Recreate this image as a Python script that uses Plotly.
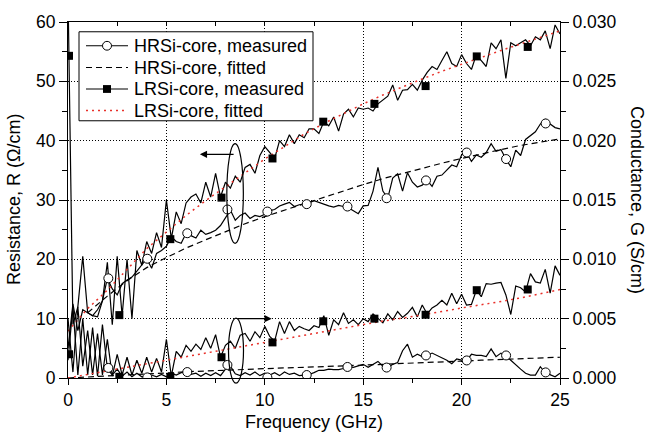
import numpy as np
import plotly.graph_objects as go

# ---------------- data ----------------
freq = np.linspace(0, 25, 101)  # GHz, 0.25 GHz step

hr_R = [5, 12.5, 8, 11.5, 11, 10.5, 10.3, 13, 16.8, 15,
        14, 15.9, 16.5, 17, 18, 19, 20.1, 18.5, 21, 21.5,
        22.2, 23.8, 23, 22.7, 24.4, 24, 23.6, 24.9, 24.2, 24.5,
        24.9, 25.7, 27, 28.3, 26.6, 27.4, 27.8, 26.9, 27.4, 27.2,
        27.6, 28.2, 28.4, 29.0, 29.3, 29.6, 28.9, 29.2, 29.3, 29.5,
        29.9, 29.6, 29.2, 29.0, 28.8, 29.1, 28.9, 28.7, 28.2, 27.7,
        29.0, 29.1, 31.5, 35.5, 31.5, 30.3, 33.7, 34.4, 31.5, 34.6,
        33, 32.2, 32.5, 33.3, 32.3, 34.0, 34.2, 35, 35.9, 35.6,
        37.6, 38.0, 36.5, 37.6, 37.2, 38, 39.5, 38.2, 38.5, 36.9,
        35.6, 38.4, 37.5, 40.2, 40.8, 41.5, 42.8, 43.6, 42.8, 42.2,
        42.0]

lr_R = [65, 9, 12, 20.5, 11, 10.5, 11.5, 13, 19.5, 9,
        20.5, 10.5, 20, 10, 21.5, 19, 23, 21, 24.5, 22,
        30, 23.5, 28, 26, 29.5, 30.5, 31, 29.5, 33, 30.5,
        34.5, 30.5, 33, 32, 34, 33, 35.5, 36, 34.5, 37.5,
        39, 38, 37, 40, 39, 41, 39.5, 41, 40.5, 42,
        42, 41.2, 43.2, 42.5, 44, 41.6, 44.5, 45.3, 44, 45.5,
        45.3, 45.5, 45, 46.2, 46.8, 47.5, 49.4, 46.8, 48.5, 48.6,
        49.5, 48.5, 50.2, 51.5, 52.5, 52, 53.5, 55, 53, 52.5,
        54.5, 53, 52, 54.5, 53.5, 52.5, 56.5, 55.5, 57, 50.5,
        56.5, 56, 56.5, 57, 56, 57.5, 57, 58.5, 55.5, 59.5,
        58]

# conductance in mS/cm
hr_G_mS = [1.5, 6, 0.25, 5, 0.25, 4.25, 0.15, 4.5, 0.8, 0.25,
           0.75, 0.15, 0.5, 0.1, 0.4, 0.1, 0.15, 0.25, 0.1, 0.3,
           0.1, 0.4, 0.25, 0.45, 0.5, 0.3, 0.4, 0.15, 0.4, 0.2,
           0.45, 0.2, 0.75, 1.0, 0.35, 0.2, 0.45, 0.25, 0.5, 0.2,
           0.4, 0.25, 0.45, 0.2, 0.5, 0.3, 0.4, 0.2, 0.25, 0.3,
           0.45, 0.65, 0.65, 0.75, 0.7, 0.7, 0.8, 0.95, 0.9, 1.05,
           1.15, 0.9, 1.15, 1.4, 1.0, 0.85, 1.15, 1.3, 2.3, 2.85,
           1.75, 2.0, 1.8, 1.9, 2.1, 1.9, 1.65, 1.5, 1.2, 1.6,
           1.5, 1.45, 2.0, 1.9, 1.9, 1.8, 2.45, 1.8, 2.1, 1.9,
           1.5, 1.1, 0.75, 0.4, 0.25, 0.25, 0.95, 0.45, 0.3, 0.1,
           0.4]

lr_G_mS = [5, 0.5, 6, 1, 4, 0.25, 3.75, 0.25, 3.25, 0.15,
           2, 0.25, 1.75, 0.25, 1.5, 0.4, 1.75, 0.5, 1.65, 0.5,
           3.25, 0.15, 2.25, 1.75, 2.75, 2.25, 2.85, 2.4, 3.4, 2.5,
           3.65, 1.75, 2.75, 3.1, 2.5, 3.6, 3.75, 3.1, 3.9, 3.4,
           4.35, 3.5, 3.1, 4.75, 3.75, 4.75, 4.0, 4.35, 4.15, 4.0,
           4.4, 4.25, 5.25, 3.6, 4.9, 4.5, 5.5, 4.6, 4.9, 4.5,
           5.0, 4.75, 5.4, 5.0, 4.65, 5.4, 4.9, 5.6, 5.1, 5.45,
           5.95, 5.15, 6.15, 5.4, 5.9, 6.15, 6.55, 6.15, 7.15, 6.25,
           7.05, 6.15, 6.2, 7.4, 6.85, 7.95, 7.9, 8.0, 8.05, 7.0,
           5.35, 7.75, 7.6, 7.25, 8.8, 8.1, 8.0, 9.15, 7.15, 9.45,
           8.65]

fit_f = list(range(26))
hr_R_fit = [None, 11.0, 13.8, 16.4, 18.6, 20.3, 21.9, 23.3, 24.7, 26.0,
            27.2, 28.3, 29.4, 30.5, 31.6, 32.6, 33.6, 34.5, 35.4, 36.2,
            37.0, 37.8, 38.5, 39.2, 39.8, 40.3]
lr_R_fit = [7.9, 11.7, 14.8, 18.3, 21.8, 24.6, 27.4, 29.9, 32.2, 34.6,
            36.9, 39.0, 41.1, 42.9, 44.6, 46.2, 47.7, 49.1, 50.4, 51.7,
            52.9, 54.1, 55.2, 56.3, 57.4, 58.5]
hr_G_fit_mS = [0, 0.075, 0.15, 0.225, 0.325, 0.425, 0.525, 0.6, 0.675, 0.75,
               0.8, 0.85, 0.9, 0.95, 1.025, 1.1, 1.15, 1.225, 1.275, 1.35,
               1.425, 1.5, 1.55, 1.625, 1.7, 1.75]
lr_G_fit_mS = [0, 0.3, 0.65, 0.95, 1.25, 1.5, 1.8, 2.1, 2.45, 2.75,
               3.05, 3.35, 3.625, 3.95, 4.25, 4.5, 4.8, 5.05, 5.3, 5.6,
               5.9, 6.15, 6.45, 6.75, 7.1, 7.45]

hr_mark_f = [2.05, 4.03, 6.06, 8.1, 10.13, 12.13, 14.2, 16.19, 18.19, 20.26, 22.26, 24.27]
hr_mark_R = [16.8, 20.1, 24.4, 28.4, 28.05, 29.3, 28.9, 30.3, 33.3, 38.0, 36.9, 42.9]
hr_mark_G_mS = [0.85, 0.05, 0.5, 1.1, 0.05, 0.25, 0.93, 0.88, 1.9, 1.48, 1.9, 0.47]

lr_mark_f = [0.05, 2.61, 5.2, 7.8, 10.39, 12.97, 15.57, 18.17, 20.77, 23.36]
lr_mark_R = [54.3, 10.6, 23.4, 30.4, 37.0, 43.2, 46.2, 49.2, 54.2, 55.8]
lr_mark_G_mS = [2.0, 0.1, 0.1, 1.75, 3.0, 4.78, 5.0, 5.33, 7.4, 7.46]

legend_names = ["HRSi-core, measured", "HRSi-core, fitted",
                "LRSi-core, measured", "LRSi-core, fitted"]

# ---------------- styles ----------------
BLACK = "black"
RED = "#e8302a"
LW = 1.2
circle_marker = dict(symbol="circle", size=9, color="white", line=dict(color=BLACK, width=1))
square_marker = dict(symbol="square", size=8, color=BLACK, line=dict(color=BLACK, width=0))
fit_dash = "6px,4px"
red_dot = "2px,4px"
FONT = "Liberation Sans, Arial, sans-serif"
TICKFONT = dict(family=FONT, size=17.5, color=BLACK)

W, H = 646, 437
ML, MR, MT, MB = 68, 86, 14, 59
PW, PH = W - ML - MR, H - MT - MB


def px_x(px):
    return (px - ML) / PW


def px_y(py):
    return (H - MB - py) / PH


def mS(v):
    return [None if a is None else a / 1000.0 for a in v]


fig = go.Figure()

# measured lines
for yv, ax in [(hr_R, "y"), (lr_R, "y"), (mS(hr_G_mS), "y2"), (mS(lr_G_mS), "y2")]:
    fig.add_trace(go.Scatter(x=freq, y=yv, mode="lines", line=dict(color=BLACK, width=LW),
                             showlegend=False, yaxis=ax, hoverinfo="skip"))

# fitted lines
fig.add_trace(go.Scatter(x=fit_f, y=hr_R_fit, mode="lines", line=dict(color=BLACK, width=LW, dash=fit_dash),
                         showlegend=False, yaxis="y"))
fig.add_trace(go.Scatter(x=fit_f, y=mS(hr_G_fit_mS), mode="lines", line=dict(color=BLACK, width=LW, dash=fit_dash),
                         showlegend=False, yaxis="y2"))
fig.add_trace(go.Scatter(x=fit_f, y=lr_R_fit, mode="lines", line=dict(color=RED, width=1.5, dash=red_dot),
                         showlegend=False, yaxis="y"))
fig.add_trace(go.Scatter(x=fit_f, y=mS(lr_G_fit_mS), mode="lines", line=dict(color=RED, width=1.5, dash=red_dot),
                         showlegend=False, yaxis="y2"))

# markers
fig.add_trace(go.Scatter(x=hr_mark_f, y=hr_mark_R, mode="markers", marker=circle_marker,
                         showlegend=False, yaxis="y"))
fig.add_trace(go.Scatter(x=hr_mark_f, y=mS(hr_mark_G_mS), mode="markers", marker=circle_marker,
                         showlegend=False, yaxis="y2"))
fig.add_trace(go.Scatter(x=lr_mark_f, y=lr_mark_R, mode="markers", marker=square_marker,
                         showlegend=False, yaxis="y"))
fig.add_trace(go.Scatter(x=lr_mark_f, y=mS(lr_mark_G_mS), mode="markers", marker=square_marker,
                         showlegend=False, yaxis="y2"))

# helper trace so the top (inside-tick) axis is drawn
fig.add_trace(go.Scatter(x=[None], y=[None], xaxis="x2", mode="lines", showlegend=False))

fig.update_layout(
    width=W, height=H,
    margin=dict(l=ML, r=MR, t=MT, b=MB, pad=0),
    plot_bgcolor="white", paper_bgcolor="white",
    font=dict(family=FONT, size=18, color=BLACK),
    showlegend=False,
    xaxis=dict(range=[0, 25], dtick=5, tick0=0, ticks="outside", ticklen=6, tickwidth=1, tickcolor=BLACK,
               showline=True, linecolor=BLACK, linewidth=1, mirror=True,
               showgrid=True, gridcolor=BLACK, griddash="1px,2px", gridwidth=1, zeroline=False,
               minor=dict(dtick=2.5, ticks="outside", ticklen=4, tickcolor=BLACK, showgrid=False),
               tickfont=TICKFONT),
    xaxis2=dict(range=[0, 25], overlaying="x", side="top", anchor="y",
                showticklabels=False, ticks="inside", ticklen=4, tickcolor=BLACK, dtick=5, tick0=0,
                minor=dict(dtick=2.5, ticks="inside", ticklen=4, tickcolor=BLACK, showgrid=False),
                showgrid=False, zeroline=False, showline=False),
    yaxis=dict(range=[0, 60], dtick=10, tick0=0, ticks="outside", ticklen=8, tickwidth=1, tickcolor=BLACK,
               showline=True, linecolor=BLACK, linewidth=1,
               showgrid=True, gridcolor=BLACK, griddash="1px,2px", gridwidth=1, zeroline=False,
               minor=dict(dtick=5, ticks="outside", ticklen=5, tickcolor=BLACK, showgrid=False),
               tickfont=TICKFONT),
    yaxis2=dict(range=[0, 0.03], overlaying="y", side="right", anchor="x", dtick=0.005, tick0=0,
                tickformat=".3f", ticks="outside", ticklen=8, tickwidth=1, tickcolor=BLACK,
                showline=True, linecolor=BLACK, linewidth=1, showgrid=False, zeroline=False,
                minor=dict(dtick=0.0025, ticks="outside", ticklen=5, tickcolor=BLACK, showgrid=False),
                tickfont=TICKFONT),
)

# axis titles
fig.add_annotation(text="Frequency (GHz)", xref="paper", yref="paper", x=0.5, y=px_y(423),
                   xanchor="center", yanchor="middle", showarrow=False, font=dict(family=FONT, size=18))
fig.add_annotation(text="Resistance, R (\u03a9/cm)", xref="paper", yref="paper", x=px_x(14), y=0.5,
                   xanchor="center", yanchor="middle", textangle=-90, showarrow=False,
                   font=dict(family=FONT, size=18))
fig.add_annotation(text="Conductance, G (S/cm)", xref="paper", yref="paper", x=px_x(637), y=0.5,
                   xanchor="center", yanchor="middle", textangle=90, showarrow=False,
                   font=dict(family=FONT, size=18))

# ellipse + arrow for the resistance curves (points to left axis)
fig.add_shape(type="circle", xref="x", yref="y", x0=8.07, x1=8.91, y0=22.7, y1=39.5,
              line=dict(color=BLACK, width=1.2))
fig.add_annotation(x=6.7, y=37.7, ax=8.49, ay=37.7, xref="x", yref="y", axref="x", ayref="y",
                   text="", showarrow=True, arrowhead=2, arrowsize=1.2, arrowwidth=1.2, arrowcolor=BLACK)

# ellipse + arrow for the conductance curves (points to right axis)
fig.add_shape(type="circle", xref="paper", yref="paper", x0=px_x(228.5), x1=px_x(243.5),
              y0=px_y(383.3), y1=px_y(316.7), line=dict(color=BLACK, width=1.2))
fig.add_annotation(x=10.35, y=10, ax=8.53, ay=10, xref="x", yref="y", axref="x", ayref="y",
                   text="", showarrow=True, arrowhead=2, arrowsize=1.2, arrowwidth=1.2, arrowcolor=BLACK)

# ---------------- legend box (drawn in pixel layout) ----------------
fig.add_shape(type="rect", xref="paper", yref="paper", layer="above",
              x0=px_x(79), x1=px_x(313), y0=px_y(115), y1=px_y(24),
              line=dict(color=BLACK, width=1), fillcolor="white")
row_y = [38.3, 60.5, 82.5, 104.5]
line_styles = [dict(color=BLACK, width=LW), dict(color=BLACK, width=LW, dash=fit_dash),
               dict(color=BLACK, width=LW), dict(color=RED, width=1.5, dash=red_dot)]
for name, ry, ls in zip(legend_names, row_y, line_styles):
    fig.add_shape(type="line", xref="paper", yref="paper", layer="above",
                  x0=px_x(86), x1=px_x(128), y0=px_y(ry), y1=px_y(ry), line=ls)
    fig.add_annotation(text=name, xref="paper", yref="paper", x=px_x(132), y=px_y(ry + 0.5),
                       xanchor="left", yanchor="middle", showarrow=False,
                       font=dict(family=FONT, size=18, color=BLACK))
# legend symbols
fig.add_shape(type="circle", xref="paper", yref="paper", layer="above",
              x0=px_x(102.5), x1=px_x(111.5), y0=px_y(row_y[0] + 4.5), y1=px_y(row_y[0] - 4.5),
              line=dict(color=BLACK, width=1), fillcolor="white")
fig.add_shape(type="rect", xref="paper", yref="paper", layer="above",
              x0=px_x(103), x1=px_x(111), y0=px_y(row_y[2] + 4), y1=px_y(row_y[2] - 4),
              line=dict(color=BLACK, width=0), fillcolor=BLACK)

fig.write_html("out.html")
